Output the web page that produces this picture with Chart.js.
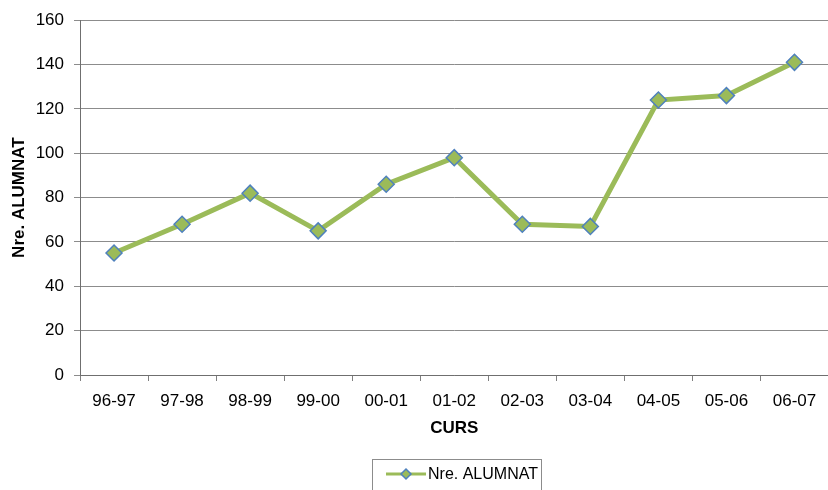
<!DOCTYPE html>
<html>
<head>
<meta charset="utf-8">
<script src="https://cdn.jsdelivr.net/npm/chart.js@4"></script>
<style>
  html, body { margin: 0; padding: 0; background: #fff; overflow: hidden; }
  /* una mica més ample que la finestra: el gràfic queda tallat a la dreta com a l'original */
  #wrap { width: 838px; height: 490px; }
</style>
</head>
<body>
<div id="wrap"><canvas id="alumnatChart"></canvas></div>
<script>
// Dades
const cursos = ['96-97', '97-98', '98-99', '99-00', '00-01', '01-02', '02-03', '03-04', '04-05', '05-06', '06-07'];
const alumnat = [55, 68, 82, 65, 86, 98, 68, 67, 124, 126, 141];
const etiquetaSerie = 'Nre. ALUMNAT';
const yMin = 0, yMax = 160, yPas = 20;

const verd = '#9BBB59';
const blau = '#4F81BD';
const font = 'Liberation Sans, Arial, sans-serif';

// Llegenda dibuixada a mà (caixa amb línia i rombe)
const llegenda = {
    id: 'llegenda',
    afterDraw(chart) {
        const ctx = chart.ctx;
        const ds = chart.data.datasets[0];
        ctx.save();
        ctx.strokeStyle = '#8c8c8c';
        ctx.lineWidth = 1;
        ctx.strokeRect(372.5, 459.5, 169, 40);
        ctx.strokeStyle = ds.borderColor;
        ctx.lineWidth = 3;
        ctx.beginPath();
        ctx.moveTo(386, 474);
        ctx.lineTo(426, 474);
        ctx.stroke();
        ctx.beginPath();
        ctx.moveTo(406, 469);
        ctx.lineTo(411, 474);
        ctx.lineTo(406, 479);
        ctx.lineTo(401, 474);
        ctx.closePath();
        ctx.fillStyle = ds.pointBackgroundColor;
        ctx.fill();
        ctx.strokeStyle = ds.pointBorderColor;
        ctx.lineWidth = 1.5;
        ctx.stroke();
        ctx.fillStyle = '#000';
        ctx.font = '16px ' + font;
        ctx.textBaseline = 'middle';
        ctx.fillText(ds.label, 428, 475);
        ctx.restore();
    }
};

const ctx = document.getElementById('alumnatChart').getContext('2d');
new Chart(ctx, {
    type: 'line',
    data: {
        labels: cursos,
        datasets: [{
            label: etiquetaSerie,
            data: alumnat,
            borderColor: verd,
            borderWidth: 5,
            tension: 0,
            pointStyle: 'rectRot',
            pointRadius: 8,
            pointHoverRadius: 8,
            pointBackgroundColor: verd,
            pointBorderColor: blau,
            pointBorderWidth: 1.5
        }]
    },
    options: {
        responsive: true,
        maintainAspectRatio: false,
        animation: false,
        layout: { padding: { top: 18, right: 0, bottom: 51, left: 0 } },
        scales: {
            x: {
                offset: true,
                grid: {
                    offset: true,
                    drawOnChartArea: false,
                    drawTicks: true,
                    tickLength: 6,
                    color: '#7f7f7f'
                },
                border: { color: '#6f6f6f', width: 1 },
                ticks: {
                    color: '#000',
                    padding: 10,
                    maxRotation: 0,
                    autoSkip: false,
                    font: { family: font, size: 17 }
                },
                title: {
                    display: true,
                    text: 'CURS',
                    color: '#000',
                    padding: { top: 0, bottom: 0 },
                    font: { family: font, size: 17, weight: 'bold' }
                },
                afterFit: scale => {
                    scale.height = 64;
                    scale.paddingLeft = 0;
                    scale.paddingRight = 0;
                }
            },
            y: {
                min: yMin,
                max: yMax,
                grid: {
                    color: '#8c8c8c',
                    tickLength: 6
                },
                border: { color: '#6f6f6f', width: 1 },
                ticks: {
                    stepSize: yPas,
                    color: '#000',
                    padding: 10,
                    font: { family: font, size: 17 }
                },
                title: {
                    display: true,
                    text: 'Nre. ALUMNAT',
                    color: '#000',
                    padding: { top: 9, bottom: 0 },
                    font: { family: font, size: 17, weight: 'bold' }
                },
                afterFit: scale => { scale.width = 80; }
            }
        },
        plugins: {
            legend: { display: false },
            tooltip: { enabled: false }
        }
    },
    plugins: [llegenda]
});
</script>
</body>
</html>
